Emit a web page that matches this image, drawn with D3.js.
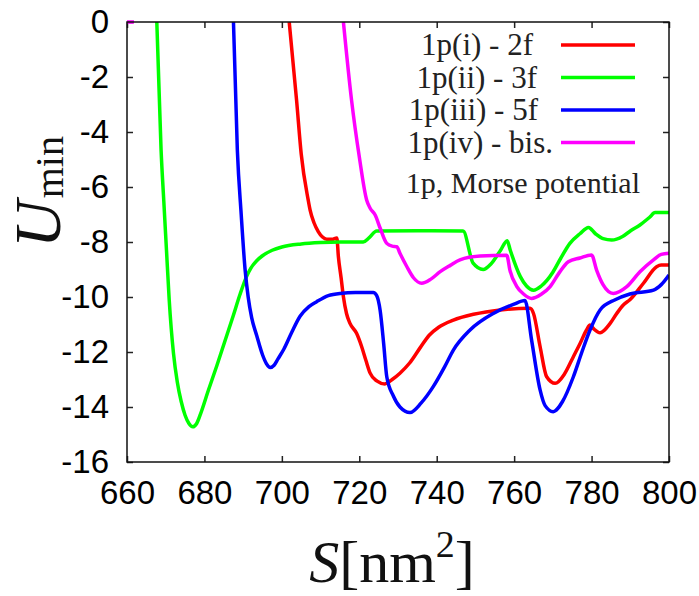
<!DOCTYPE html>
<html>
<head>
<meta charset="utf-8">
<script src="https://cdn.jsdelivr.net/npm/d3@7"></script>
<style>
  body { margin: 0; background: #fff; }
  .tick text { font-family: "Liberation Sans Narrow", "Liberation Sans", sans-serif; font-size: 33px; fill: #000; }
  .tick line { stroke: #222; stroke-width: 1.5; }
</style>
</head>
<body>
<div id="chart"></div>
<script>
// series: [S, U] pairs
var red_2f = [[701.9,0],[703.8,-2.84],[705,-4.8],[706.8,-6.47],[707.3,-6.84],[708.3,-7.3],[709.4,-7.62],[710.5,-7.82],[711.6,-7.9],[713,-7.9],[714.2,-7.85],
    [714.6,-8.53],[715.3,-9.3],[715.9,-9.99],[716.7,-10.6],[717.6,-10.96],[719.3,-11.32],[720.6,-11.8],[721.7,-12.3],[722.8,-12.77],[724.5,-13.05],
    [726.6,-13.16],[728.5,-13.0],[730.5,-12.77],[733,-12.4],[735.7,-11.85],[738,-11.4],[740.5,-11.1],[744.3,-10.84],[749.5,-10.63],[756.4,-10.47],
    [764.1,-10.41],[765,-10.6],[766.7,-11.8],[768.4,-12.9],[770.6,-13.14],[773,-12.8],[775.3,-12.17],[777,-11.7],[778.7,-11.2],[779.6,-11.02],
    [780.5,-11.15],[782.2,-11.3],[784.8,-10.96],[786.5,-10.6],[788.2,-10.29],[789.9,-10.1],[793.4,-9.5],[796.8,-8.9],[798,-8.84],[800,-8.84]]

var green_3f = [[667.7,0],[668.8,-4.65],[669.5,-6.5],[670.2,-8.3],[670.9,-10.1],[672,-12.04],[673,-13.1],[674,-13.8],[675,-14.3],[676,-14.6],
    [677,-14.72],[678,-14.6],[679,-14.25],[681,-13.4],[683.2,-12.5],[685.3,-11.6],[687.4,-10.7],[689.2,-9.9],[690.9,-9.25],[692,-8.95],[693.5,-8.68],
    [695,-8.5],[697.5,-8.3],
    [700,-8.18],[705,-8.07],[710,-8.02],[715,-8.0],[721,-8.0],[722.5,-7.85],[724.5,-7.6],[735,-7.59],[746.8,-7.6],[749.4,-8.77],[752,-9.0],
    [754,-8.8],[756.5,-8.3],[758.2,-7.95],[759,-8.3],[761.6,-9.26],[763.2,-9.6],[765,-9.75],[767,-9.6],[770,-9.1],[772,-8.6],[774.4,-8.05],
    [777,-7.7],[779.2,-7.47],[781,-7.7],[783,-7.88],[785.2,-7.93],[788,-7.8],[790,-7.6],[792.5,-7.38],[795,-7.1],[796.4,-6.93],[800,-6.93]]

var blue_5f = [[687.5,0],[688.5,-4.65],[689.5,-7],[690.5,-9],[691.3,-10.0],[692.2,-10.75],[693.5,-11.4],[695,-12.1],[696,-12.42],[697,-12.56],
    [698,-12.48],[699,-12.25],[700.5,-11.9],[702.5,-11.3],[704.7,-10.7],[707,-10.35],[709,-10.17],[712,-9.95],[715,-9.87],[719,-9.84],[723.6,-9.84],[724.5,-9.95],
    [725.4,-10.5],[726.3,-11.7],[727.1,-12.9],[728.8,-13.6],[730.5,-14.0],[733.1,-14.2],[736,-13.85],[739.1,-13.26],[742,-12.55],[744.3,-11.93],
    [748.6,-11.2],[754.6,-10.6],[759.8,-10.27],[762.8,-10.13],[764.5,-11.56],[766.7,-13.38],[768,-13.95],[770.1,-14.17],[772.5,-13.8],
    [775.3,-12.9],[777.5,-12.0],[779.6,-11.2],[782.2,-10.47],[786.1,-10.1],[789.9,-9.89],[796,-9.75],[798,-9.55],[800,-9.2]]

var magenta_start = [[660,0],[661.8,0]]
var magenta_bis = [[715.9,0],[718,-2.84],[720,-4.9],[721.9,-6.47],[722.8,-6.77],[724.1,-7.02],[725.4,-7.5],[727.1,-8.05],[728.5,-8.15],[729.7,-8.17],
    [730.5,-8.41],[732.3,-8.9],[734,-9.3],[736.1,-9.5],[738.5,-9.35],[740.9,-9.08],[743.5,-8.85],[746,-8.65],[751.2,-8.51],[758.1,-8.48],
    [758.9,-9.02],[760.7,-9.62],[762.5,-9.9],[764.5,-10.05],[767,-9.9],[769.3,-9.62],[771.5,-9.15],[774,-8.72],[777,-8.58],[780,-8.47],
    [781.3,-9.02],[783,-9.56],[785.6,-9.87],[789.1,-9.62],[792.5,-9.08],[796,-8.65],[798,-8.45],[800,-8.41]]

var series_names = ['1p(i) - 2f', '1p(ii) - 3f', '1p(iii) - 5f', '1p(iv) - bis.']
var series_colors = ['#ff0000', '#00ff00', '#0000ff', '#ff00ff']
var series_data = [red_2f, green_3f, blue_5f, magenta_bis]
var x_ticks = [660, 680, 700, 720, 740, 760, 780, 800]
var y_ticks = [-16, -14, -12, -10, -8, -6, -4, -2, 0]
var note = '1p, Morse potential'

var W = 699, H = 596
var margin = { left:127, right:30, top:22, bottom:134 }
var width = W - margin.left - margin.right,
    height = H - margin.top - margin.bottom

var svg = d3.select('#chart').append('svg')
    .attr('width', W)
    .attr('height', H)

var g = svg.append('g')
    .attr('transform', 'translate(' + margin.left + ',' + margin.top + ')')

var x = d3.scaleLinear().domain([660, 800]).range([0, width])
var y = d3.scaleLinear().domain([-16, 0]).range([height, 0])

svg.append('defs').append('clipPath').attr('id', 'clip')
    .append('rect').attr('width', width).attr('height', height)

// axes, ticks point inwards and are mirrored on top/right
g.append('g').attr('transform', 'translate(0,' + height + ')')
    .call(d3.axisBottom(x).tickValues(x_ticks).tickSize(-6).tickPadding(19).tickFormat(function(d){ return String(d) }))
g.append('g')
    .call(d3.axisLeft(y).tickValues(y_ticks).tickSize(-6).tickPadding(18).tickFormat(function(d){ return String(d) }))
g.append('g')
    .call(d3.axisTop(x).tickValues(x_ticks).tickSize(-6).tickFormat(''))
g.append('g').attr('transform', 'translate(' + width + ',0)')
    .call(d3.axisRight(y).tickValues(y_ticks).tickSize(-6).tickFormat(''))
g.selectAll('.domain').remove()

var line = d3.line()
    .x(function(d){ return x(d[0]) })
    .y(function(d){ return y(d[1]) })
    .curve(d3.curveMonotoneX)

var plot = g.append('g').attr('clip-path', 'url(#clip)')
series_data.forEach(function(d, i){
    plot.append('path')
        .datum(d)
        .attr('d', line)
        .attr('fill', 'none')
        .attr('stroke', series_colors[i])
        .attr('stroke-width', 3.5)
        .attr('stroke-linejoin', 'round')
})
// short magenta piece sitting on the top border (not clipped)
g.append('path')
    .datum(magenta_start)
    .attr('d', line)
    .attr('stroke', series_colors[3])
    .attr('stroke-width', 3.5)

g.append('rect')
    .attr('width', width).attr('height', height)
    .attr('fill', 'none').attr('stroke', '#111').attr('stroke-width', 1.5)

// legend
var serif = '"Liberation Serif", "DejaVu Serif", serif'
var legend_dx = [-20, -16, -15, 0]
series_names.forEach(function(name, i){
    var yy = 45 + i * 32.5
    svg.append('line')
        .attr('x1', 561).attr('x2', 635)
        .attr('y1', yy).attr('y2', yy)
        .attr('stroke', series_colors[i]).attr('stroke-width', 3.5)
    svg.append('text')
        .attr('x', 553 + legend_dx[i]).attr('y', yy + 10)
        .attr('text-anchor', 'end')
        .attr('font-family', serif).attr('font-size', 31)
        .attr('fill', '#222')
        .text(name)
})
svg.append('text')
    .attr('x', 640).attr('y', 193)
    .attr('text-anchor', 'end')
    .attr('font-family', serif).attr('font-size', 30)
    .attr('fill', '#222')
    .text(note)

// axis titles
var ylab = svg.append('text')
    .attr('transform', 'translate(60,248) rotate(-90)')
    .attr('font-family', serif).attr('fill', '#111')
ylab.append('tspan').attr('font-size', 66).attr('font-style', 'italic').text('U')
ylab.append('tspan').attr('font-size', 40).attr('dy', 3).attr('dx', 2).text('min')

var xlab = svg.append('text')
    .attr('x', 392).attr('y', 582)
    .attr('text-anchor', 'middle')
    .attr('font-family', serif).attr('fill', '#111').attr('font-size', 60)
xlab.append('tspan').attr('font-style', 'italic').text('S')
xlab.append('tspan').text('[nm')
xlab.append('tspan').attr('font-size', 38).attr('dy', -25).text('2')
xlab.append('tspan').attr('dy', 25).text(']')
</script>
</body>
</html>
